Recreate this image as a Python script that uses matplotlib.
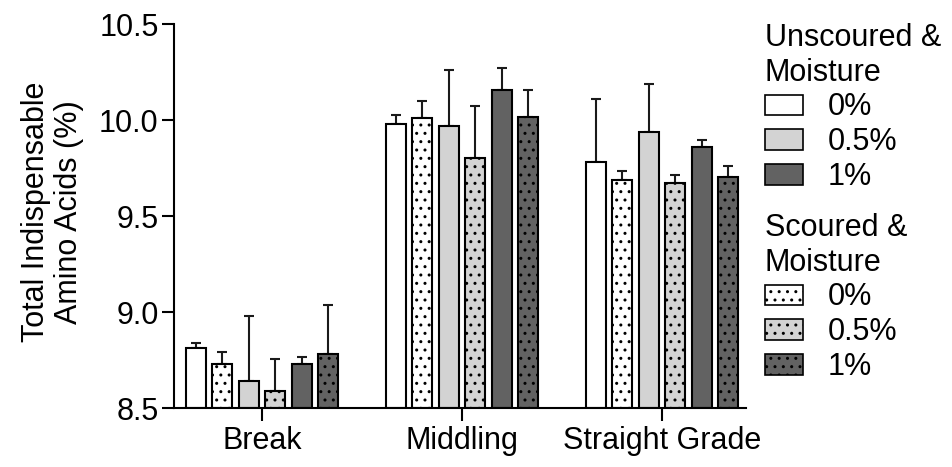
import numpy as np
import matplotlib.pyplot as plt
from matplotlib.patches import Patch

plt.rcParams['font.family'] = ['Liberation Sans', 'DejaVu Sans']
plt.rcParams['hatch.linewidth'] = 1.0

groups = ["Break", "Middling", "Straight Grade"]
series = ["Unscoured 0%", "Scoured 0%", "Unscoured 0.5%", "Scoured 0.5%", "Unscoured 1%", "Scoured 1%"]

# means per group, in series order
unscoured_0 = [8.81, 9.98, 9.78]
scoured_0 = [8.73, 10.01, 9.69]
unscoured_05 = [8.64, 9.97, 9.94]
scoured_05 = [8.59, 9.80, 9.67]
unscoured_1 = [8.73, 10.155, 9.86]
scoured_1 = [8.78, 10.015, 9.705]

# upper error (SD)
err_u0 = [0.026, 0.045, 0.33]
err_s0 = [0.064, 0.088, 0.045]
err_u05 = [0.34, 0.29, 0.25]
err_s05 = [0.163, 0.273, 0.046]
err_u1 = [0.036, 0.118, 0.035]
err_s1 = [0.259, 0.141, 0.055]

means = [unscoured_0, scoured_0, unscoured_05, scoured_05, unscoured_1, scoured_1]
errs = [err_u0, err_s0, err_u05, err_s05, err_u1, err_s1]
colors = ["white", "white", "#d3d3d3", "#d3d3d3", "#626262", "#626262"]
hatches = [None, "..", None, "..", None, ".."]

fig = plt.figure(figsize=(9.53, 4.67), dpi=100)
ax = fig.add_axes([174 / 953, 1 - 408 / 467, 572 / 953, 384 / 467])

x = np.arange(len(groups))
step = 0.132
width = 0.10
for i in range(6):
    pos = x + (i - 2.5) * step
    ax.bar(pos, np.array(means[i]) - 8.5, width, bottom=8.5, color=colors[i],
           edgecolor="black", linewidth=1.5, hatch=hatches[i], zorder=2)
    ax.errorbar(pos, means[i], yerr=[np.zeros(3), errs[i]], fmt="none",
                ecolor="#1a1a1a", elinewidth=1.5, capsize=3.6, capthick=1.5, zorder=1)

ax.set_ylim(8.5, 10.5)
ax.set_xlim(-0.44, 2.42)
ax.set_yticks([8.5, 9.0, 9.5, 10.0, 10.5])
ax.set_yticklabels(["8.5", "9.0", "9.5", "10.0", "10.5"])
ax.set_xticks(x)
ax.set_xticklabels(groups)
ax.tick_params(axis="both", labelsize=22, width=1.5, length=9, pad=2)
ax.tick_params(axis="x", pad=4)
ax.spines["top"].set_visible(False)
ax.spines["right"].set_visible(False)
ax.spines["left"].set_linewidth(1.5)
ax.spines["bottom"].set_linewidth(1.5)

ax.set_ylabel("Total Indispensable\nAmino Acids (%)", fontsize=22, linespacing=1.12)
ax.yaxis.set_label_coords(-0.158, 0.51)

unsc_handles = [Patch(facecolor=colors[i], edgecolor="black", linewidth=1.2) for i in (0, 2, 4)]
sc_handles = [Patch(facecolor=colors[i], edgecolor="black", linewidth=1.2, hatch="..") for i in (1, 3, 5)]
labels = ["0%", "0.5%", "1%"]

common = dict(frameon=False, fontsize=22, title_fontsize=22, alignment="left",
              handlelength=1.24, handleheight=0.65, handletextpad=0.82,
              labelspacing=0.16, borderpad=0, borderaxespad=0, loc="upper left")
leg1 = fig.legend(unsc_handles, labels, title="Unscoured &\nMoisture",
                  bbox_to_anchor=(765 / 953, 1 - 23 / 467), **common)
leg2 = fig.legend(sc_handles, labels, title="Scoured &\nMoisture",
                  bbox_to_anchor=(765 / 953, 1 - 213 / 467), **common)

fig.savefig("out.png", dpi=100)
